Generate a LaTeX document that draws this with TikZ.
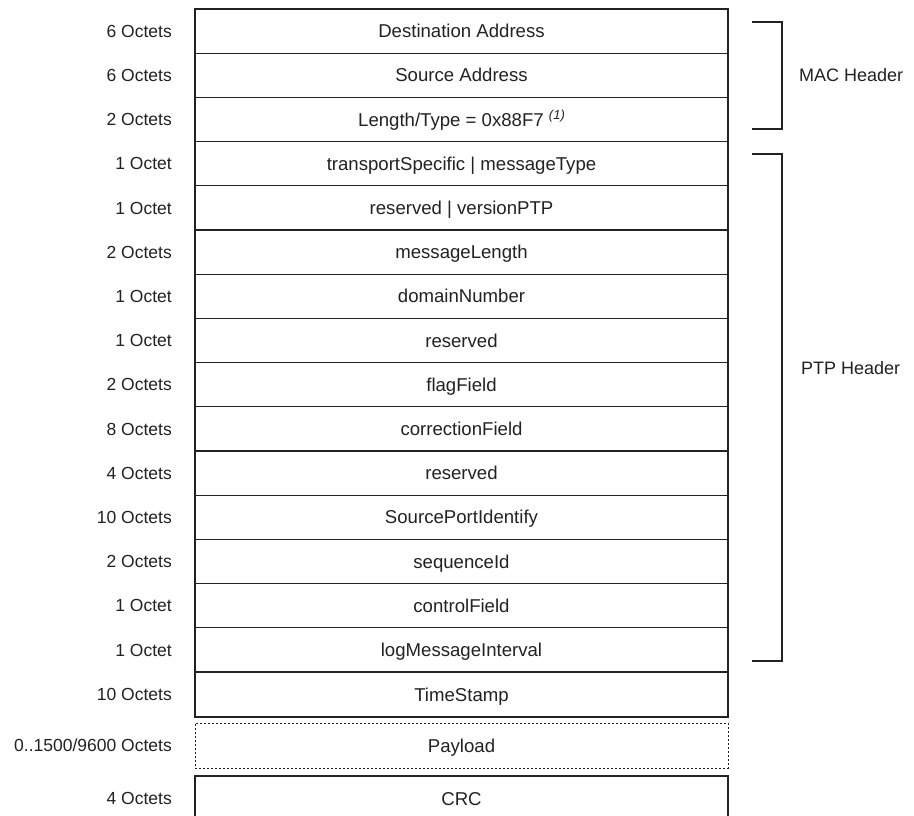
\documentclass[tikz,border=0pt]{standalone}
\usepackage{fontspec}
\setmainfont{Liberation Sans}
\definecolor{ink}{HTML}{222222}
\begin{document}
\begin{tikzpicture}[x=1pt,y=-1pt,
  field/.style={draw=ink, line width=1.2pt, minimum width=533pt, minimum height=44.2pt,
    inner sep=0pt, text=ink, text height=13.3pt, text depth=0pt, font=\fontsize{18.6}{20}\selectfont},
  dfield/.style={field, line width=0.9pt, dash pattern=on 2.4pt off 1.6pt},
  lab/.style={anchor=east, inner sep=0pt, text=ink, text height=12.5pt, text depth=0pt, font=\fontsize{17.5}{20}\selectfont},
  grp/.style={anchor=west, inner sep=0pt, text=ink, text height=12.9pt, text depth=0pt, font=\fontsize{18}{20}\selectfont},
  brk/.style={draw=ink, line width=1.1pt}]
\useasboundingbox (0,0) rectangle (914,816);
\clip (0,0) rectangle (914,816);
\fill[white] (0,0) rectangle (914,816);
% fields
\node[field] (r1) at (461.5,31.1) {Destination Address};
\node[field] (r2) at (461.5,75.3) {Source Address};
\node[field] (r3) at (461.5,119.5) {Length/Type = 0x88F7 \raisebox{7pt}{\fontsize{13}{13}\itshape (1)}};
\node[field] (r4) at (461.5,163.7) {transportSpecific | messageType};
\node[field] (r5) at (461.5,207.9) {reserved | versionPTP};
\node[field] (r6) at (461.5,252.1) {messageLength};
\node[field] (r7) at (461.5,296.3) {domainNumber};
\node[field] (r8) at (461.5,340.5) {reserved};
\node[field] (r9) at (461.5,384.7) {flagField};
\node[field] (r10) at (461.5,428.9) {correctionField};
\node[field] (r11) at (461.5,473.1) {reserved};
\node[field] (r12) at (461.5,517.3) {SourcePortIdentify};
\node[field] (r13) at (461.5,561.5) {sequenceId};
\node[field] (r14) at (461.5,605.7) {controlField};
\node[field] (r15) at (461.5,649.9) {logMessageInterval};
\node[field, minimum height=45pt] (r16) at (461.5,694.5) {TimeStamp};
\node[dfield, minimum height=45pt] (r17) at (461.5,745.5) {Payload};
\node[field, minimum height=46pt] (r18) at (461.5,799) {CRC};
% size labels
\node[lab] (l1) at (172,31.1) {6 Octets};
\node[lab] (l2) at (172,75.3) {6 Octets};
\node[lab] (l3) at (172,119.5) {2 Octets};
\node[lab] (l4) at (172,163.7) {1 Octet};
\node[lab] (l5) at (172,207.9) {1 Octet};
\node[lab] (l6) at (172,252.1) {2 Octets};
\node[lab] (l7) at (172,296.3) {1 Octet};
\node[lab] (l8) at (172,340.5) {1 Octet};
\node[lab] (l9) at (172,384.7) {2 Octets};
\node[lab] (l10) at (172,428.9) {8 Octets};
\node[lab] (l11) at (172,473.1) {4 Octets};
\node[lab] (l12) at (172,517.3) {10 Octets};
\node[lab] (l13) at (172,561.5) {2 Octets};
\node[lab] (l14) at (172,605.7) {1 Octet};
\node[lab] (l15) at (172,649.9) {1 Octet};
\node[lab] (l16) at (172,694.5) {10 Octets};
\node[lab] (l17) at (172,745.5) {0..1500/9600 Octets};
\node[lab] (l18) at (172,798) {4 Octets};
% brackets
\coordinate (m1) at (752,22);
\coordinate (m2) at (782,22);
\coordinate (m3) at (782,129);
\coordinate (m4) at (752,129);
\draw[brk] (m1) -- (m2) -- (m3) -- (m4);
\node[grp] (mac) at (799,75.5) {MAC Header};
\coordinate (p1) at (752,154);
\coordinate (p2) at (782,154);
\coordinate (p3) at (782,661);
\coordinate (p4) at (752,661);
\draw[brk] (p1) -- (p2) -- (p3) -- (p4);
\node[grp] (ptp) at (801,368) {PTP Header};
\end{tikzpicture}
\end{document}
